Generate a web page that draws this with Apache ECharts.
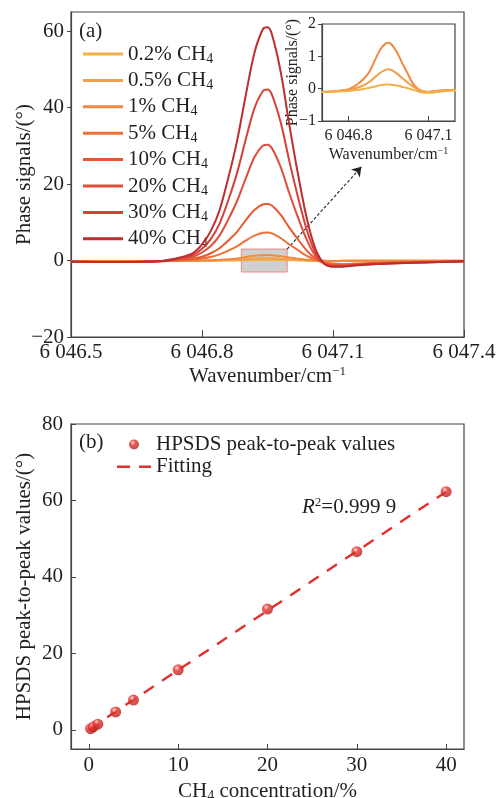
<!DOCTYPE html>
<html>
<head>
<meta charset="utf-8">
<script src="https://cdn.jsdelivr.net/npm/echarts@6/dist/echarts.min.js"></script>
<style>
html, body { margin: 0; padding: 0; background: #fff; }
#chart { width: 497px; height: 798px; }
</style>
</head>
<body>
<div id="chart"></div>
<script>
// (a) spectra
var wavenumber = [6046.50, 6046.60, 6046.70, 6046.75, 6046.78, 6046.80, 6046.82, 6046.84, 6046.86,
  6046.88, 6046.90, 6046.92, 6046.94, 6046.95, 6046.96, 6046.98, 6047.00, 6047.02, 6047.04,
  6047.06, 6047.08, 6047.10, 6047.12, 6047.15, 6047.20, 6047.30, 6047.40];
var ch4_02 = [-0.1, -0.12, -0.1, -0.09, -0.08, -0.07, -0.05, -0.03, 0, 0.03, 0.07, 0.11, 0.13, 0.13,
  0.12, 0.1, 0.06, 0.02, -0.03, -0.08, -0.12, -0.13, -0.12, -0.09, -0.06, -0.05, -0.05];
var ch4_05 = [-0.1, -0.12, -0.1, -0.08, -0.06, -0.04, 0, 0.05, 0.12, 0.22, 0.36, 0.5, 0.58, 0.6,
  0.58, 0.48, 0.34, 0.2, 0.08, -0.02, -0.08, -0.1, -0.09, -0.06, -0.04, -0.05, -0.05];
var ch4_1 = [-0.1, -0.12, -0.1, -0.08, -0.05, -0.02, 0.06, 0.18, 0.33, 0.55, 0.9, 1.22, 1.4, 1.42,
  1.38, 1.15, 0.82, 0.5, 0.18, 0.0, -0.08, -0.1, -0.08, -0.05, -0.03, -0.05, -0.05];
var ch4_5 = [-0.2, -0.3, -0.2, 0.1, 0.2, 0.5, 0.9, 1.6, 2.6, 3.7, 5.2, 6.5, 7.25, 7.3,
  7.1, 5.9, 4.2, 2.7, 1.2, 0.2, -0.5, -0.8, -0.9, -0.8, -0.6, -0.4, -0.2];
var ch4_10 = [-0.3, -0.4, -0.2, 0.2, 0.5, 1.0, 1.9, 3.2, 5.2, 7.5, 10.5, 13.2, 14.7, 14.8,
  14.4, 12.0, 8.6, 5.5, 2.6, 0.5, -0.7, -1.2, -1.2, -1.0, -0.7, -0.4, -0.2];
var ch4_20 = [-0.3, -0.4, -0.2, 0.4, 1.0, 2.1, 3.8, 6.5, 10.7, 15.5, 21.4, 27.0, 30.1, 30.3,
  29.4, 24.5, 17.6, 11.2, 5.4, 1.2, -0.8, -1.4, -1.4, -1.1, -0.8, -0.5, -0.2];
var ch4_30 = [-0.3, -0.4, -0.2, 0.6, 1.5, 3.1, 5.6, 9.6, 15.7, 22.8, 31.6, 39.8, 44.4, 44.7,
  43.4, 36.2, 26.0, 16.5, 8.0, 2.0, -0.8, -1.5, -1.5, -1.2, -0.9, -0.5, -0.2];
var ch4_40 = [-0.3, -0.4, -0.2, 0.8, 2.0, 4.2, 7.7, 13.1, 21.5, 31.1, 43.1, 54.3, 60.6, 61.0,
  59.2, 49.5, 35.5, 22.5, 11.0, 3.0, -0.8, -1.6, -1.6, -1.3, -0.9, -0.5, -0.2];
var seriesNames = ['0.2%', '0.5%', '1%', '5%', '10%', '20%', '30%', '40%'];
var seriesData = [ch4_02, ch4_05, ch4_1, ch4_5, ch4_10, ch4_20, ch4_30, ch4_40];
var lineColors = ['#F3B047', '#F0A04C', '#F08A40', '#EC7038', '#E8582C', '#DD4E3C', '#D54038', '#BE2E2E'];
var mainXTicks = [6046.5, 6046.8, 6047.1, 6047.4];
var mainYTicks = [-20, 0, 20, 40, 60];
var insetXTicks = [6046.8, 6047.1];

// (b) peak-to-peak vs concentration
var concentration = [0.2, 0.5, 1, 3, 5, 10, 20, 30, 40];
var peakToPeak = [0.3, 0.8, 1.5, 4.7, 7.8, 15.7, 31.6, 46.6, 62.3];
var fitX = [0, 40];
var fitY = [0.1, 62.3];
var concTicks = [0, 10, 20, 30, 40];
var p2pTicks = [0, 20, 40, 60, 80];

var FONT = 'Liberation Serif';
var TXT = '#231f20';
var AX = '#454545';
var FS = 21;   // main text size
var FSI = 16;  // inset text size

function fmtWn(v) {
  var s = v.toFixed(1);
  return s.charAt(0) + ' ' + s.slice(1);
}
function fmtNum(v) {
  return v < 0 ? '\u2212' + (-v) : '' + v;
}
function pairs(xs, ys) {
  return xs.map(function (x, i) { return [x, ys[i]]; });
}

var richSub = {
  sub: { fontSize: 14, fontFamily: FONT, color: TXT, padding: [10, 0, 0, 0] },
  sup: { fontSize: 13, fontFamily: FONT, color: TXT, padding: [0, 0, 10, 0] }
};
var richSubSmall = {
  sup: { fontSize: 10, fontFamily: FONT, color: TXT, padding: [0, 0, 8, 0] }
};

var series = [];
seriesData.forEach(function (ys, i) {
  series.push({
    name: seriesNames[i],
    type: 'line',
    xAxisIndex: 0,
    yAxisIndex: 0,
    data: pairs(wavenumber, ys),
    smooth: 0.3,
    showSymbol: false,
    color: lineColors[i],
    lineStyle: { width: 2, color: lineColors[i] },
    z: 2 + i
  });
});
// zoom box and arrow, on top of the curves
series.push({
  name: 'zoom',
  type: 'line',
  xAxisIndex: 0,
  yAxisIndex: 0,
  data: [],
  z: 20,
  markArea: {
    silent: true,
    itemStyle: { color: 'rgba(150,150,150,0.45)', borderColor: '#E88A8A', borderWidth: 1 },
    data: [[{ coord: [6046.89, -3] }, { coord: [6046.995, 3] }]]
  },
  markLine: {
    silent: true,
    symbol: ['none', 'arrow'],
    symbolSize: 9,
    label: { show: false },
    lineStyle: { color: '#222', type: [3, 2], width: 1.1 },
    data: [[{ coord: [6046.995, 3] }, { coord: [6047.165, 24.5] }]]
  }
});
// inset: the three lowest concentrations
[0, 1, 2].forEach(function (i) {
  series.push({
    name: seriesNames[i],
    type: 'line',
    xAxisIndex: 1,
    yAxisIndex: 1,
    data: pairs(wavenumber, seriesData[i]),
    smooth: 0.3,
    showSymbol: false,
    lineStyle: { width: 2, color: lineColors[i] },
    color: lineColors[i],
    z: 10 - i
  });
});
series.push({
  name: 'Fitting',
  type: 'line',
  xAxisIndex: 2,
  yAxisIndex: 2,
  data: pairs(fitX, fitY),
  symbol: 'none',
  color: '#E3302C',
  lineStyle: { width: 2.4, color: '#E3302C', type: [12, 10] },
  z: 2
});
series.push({
  name: 'HPSDS peak-to-peak values',
  type: 'scatter',
  xAxisIndex: 2,
  yAxisIndex: 2,
  data: pairs(concentration, peakToPeak),
  symbolSize: 11,
  itemStyle: {
    color: {
      type: 'radial', x: 0.38, y: 0.32, r: 0.7,
      colorStops: [
        { offset: 0, color: '#FFD6D0' },
        { offset: 0.35, color: '#E8332E' },
        { offset: 1, color: '#B51E1C' }
      ]
    }
  },
  z: 5
});

function frameAxis(extra) {
  var base = {
    axisLine: { show: true, onZero: false, lineStyle: { color: AX, width: 1.2 } },
    splitLine: { show: false },
    axisLabel: { color: TXT, fontFamily: FONT, fontSize: FS },
    nameTextStyle: { color: TXT, fontFamily: FONT, fontSize: FS },
    nameLocation: 'middle',
    nameMoveOverlap: false
  };
  for (var k in extra) {
    if (typeof extra[k] === 'object' && base[k] && !Array.isArray(extra[k])) {
      base[k] = Object.assign({}, base[k], extra[k]);
    } else {
      base[k] = extra[k];
    }
  }
  return base;
}

function frameGrid(left, top, width, height) {
  return {
    left: left, top: top, width: width, height: height,
    outerBoundsMode: 'none', containLabel: false,
    show: true, borderColor: AX, borderWidth: 1.2
  };
}

var option = {
  backgroundColor: '#fff',
  animation: false,
  grid: [
    frameGrid(71, 12, 393, 325),
    frameGrid(322, 24, 133, 97),
    frameGrid(71, 424, 393, 325)
  ],
  xAxis: [
    frameAxis({
      gridIndex: 0, type: 'value', min: 6046.5, max: 6047.4,
      name: 'Wavenumber/cm{sup|\u22121}', nameGap: 28,
      nameTextStyle: { rich: richSub },
      axisTick: { inside: true, length: 7, lineStyle: { color: AX }, customValues: mainXTicks },
      axisLabel: { margin: 5, formatter: fmtWn, customValues: mainXTicks }
    }),
    frameAxis({
      gridIndex: 1, type: 'value', min: 6046.7, max: 6047.2,
      name: 'Wavenumber/cm{sup|\u22121}', nameGap: 25,
      nameTextStyle: { fontSize: FSI, rich: richSubSmall },
      axisTick: { inside: true, length: 5, lineStyle: { color: AX }, customValues: insetXTicks },
      axisLabel: { margin: 7, fontSize: FSI, formatter: fmtWn, customValues: insetXTicks }
    }),
    frameAxis({
      gridIndex: 2, type: 'value', min: -2, max: 42,
      name: 'CH{sub|4} concentration/%', nameGap: 30,
      nameTextStyle: { rich: richSub },
      axisTick: { inside: true, length: 5, lineStyle: { color: AX }, customValues: concTicks },
      axisLabel: { margin: 6, formatter: fmtNum, customValues: concTicks }
    })
  ],
  yAxis: [
    frameAxis({
      gridIndex: 0, type: 'value', min: -20, max: 65,
      name: 'Phase signals/(\u00b0)', nameGap: 36, nameRotate: 90,
      axisTick: { inside: false, length: 4, lineStyle: { color: AX }, customValues: mainYTicks },
      axisLabel: { margin: 7, formatter: fmtNum, customValues: mainYTicks }
    }),
    frameAxis({
      gridIndex: 1, type: 'value', min: -1, max: 2, interval: 1,
      name: 'Phase signals/(\u00b0)', nameGap: 21, nameRotate: 90,
      nameTextStyle: { fontSize: FSI },
      axisTick: { inside: false, length: 4, lineStyle: { color: AX } },
      axisLabel: { margin: 6, fontSize: FSI, formatter: fmtNum }
    }),
    frameAxis({
      gridIndex: 2, type: 'value', min: -5, max: 80,
      name: 'HPSDS peak-to-peak values/(\u00b0)', nameGap: 36, nameRotate: 90,
      axisTick: { inside: true, length: 5, lineStyle: { color: AX }, customValues: p2pTicks },
      axisLabel: { margin: 8, formatter: fmtNum, customValues: p2pTicks }
    })
  ],
  legend: [
    {
      data: seriesNames,
      orient: 'vertical',
      left: 78, top: 38,
      itemWidth: 40, itemHeight: 3, itemGap: 3.4,
      icon: 'rect',
      formatter: function (n) { return n + ' CH{sub|4}'; },
      textStyle: { color: TXT, fontFamily: FONT, fontSize: FS, lineHeight: 22, rich: richSub },
      selectedMode: false
    },
    {
      data: [
        { name: 'HPSDS peak-to-peak values', icon: 'circle' },
        // two dashes; corner points keep the icon box full size
        { name: 'Fitting', icon: 'path://M0,0L0.01,0L0.01,0.01Z M0,4L13,4L13,6.4L0,6.4Z M22,4L34,4L34,6.4L22,6.4Z M34,10L33.99,10L33.99,9.99Z' }
      ],
      orient: 'vertical',
      left: 112, top: 429,
      itemWidth: 34, itemHeight: 10, itemGap: 1,
      textStyle: { color: TXT, fontFamily: FONT, fontSize: FS, lineHeight: 20 },
      selectedMode: false
    }
  ],
  graphic: [
    { type: 'text', left: 79, top: 21, style: { text: '(a)', fontFamily: FONT, fontSize: FS, fill: TXT } },
    { type: 'text', left: 79, top: 432, style: { text: '(b)', fontFamily: FONT, fontSize: FS, fill: TXT } },
    {
      type: 'text', left: 302, top: 496,
      style: {
        text: '{i|R}{s|2}=0.999 9', fontFamily: FONT, fontSize: FS, fill: TXT,
        rich: {
          i: { fontFamily: FONT, fontSize: FS, fontStyle: 'italic', fill: TXT },
          s: { fontFamily: FONT, fontSize: 13, fill: TXT, padding: [0, 0, 9, 0] }
        }
      }
    }
  ],
  series: series
};

var chart = echarts.init(document.getElementById('chart'));
chart.setOption(option);
</script>
</body>
</html>
